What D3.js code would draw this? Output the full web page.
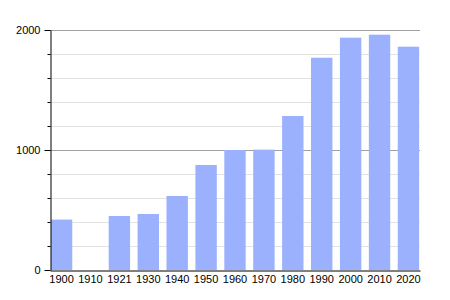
<!DOCTYPE html>
<html>
<head>
<meta charset="utf-8">
<script src="https://cdn.jsdelivr.net/npm/d3@7"></script>
<style>
  body { margin: 0; background: #fff; }
  text { font-family: "Liberation Sans", Arial, sans-serif; font-size: 11px; fill: #000; }
</style>
</head>
<body>
<script>
var years = ['1900', '1910', '1921', '1930', '1940', '1950', '1960', '1970', '1980', '1990', '2000', '2010', '2020'];
var population = [420, 0, 450, 467, 617, 875, 1000, 1003, 1283, 1769, 1936, 1961, 1861];
var majorTicks = [0, 1000, 2000];
var minorTicks = [200, 400, 600, 800, 1200, 1400, 1600, 1800];

var width = 450,
    height = 300,
    margin = { top: 30, right: 30, bottom: 30, left: 50 };

var svg = d3.select('body').append('svg')
    .attr('width', width)
    .attr('height', height);

width = width - margin.left - margin.right;
height = height - margin.top - margin.bottom;

var xScale = d3.scaleBand().domain(years).range([0, width]).paddingInner(0.26).paddingOuter(0.03),
    yScale = d3.scaleLinear().domain([0, 2000]).range([height, 0]);

var g = svg.append('g')
    .attr('transform', 'translate(' + margin.left + ',' + margin.top + ')');

// light grid every 200
g.selectAll('.minor')
  .data(minorTicks)
  .enter().append('line')
  .attr('x1', 0).attr('x2', width)
  .attr('y1', function(d) { return yScale(d) + 0.5; })
  .attr('y2', function(d) { return yScale(d) + 0.5; })
  .attr('stroke', '#e2e2e2');

// darker grid at the thousands
g.selectAll('.major')
  .data(majorTicks.slice(1))
  .enter().append('line')
  .attr('x1', 0).attr('x2', width)
  .attr('y1', function(d) { return yScale(d) + 0.5; })
  .attr('y2', function(d) { return yScale(d) + 0.5; })
  .attr('stroke', '#a0a0a0');

// bars
g.selectAll('.bar')
  .data(years)
  .enter().append('rect')
  .attr('class', 'bar')
  .attr('x', function(d) { return xScale(d); })
  .attr('width', xScale.bandwidth())
  .attr('y', function(d, i) { return yScale(population[i]); })
  .attr('height', function(d, i) { return height - yScale(population[i]); })
  .attr('fill', '#9bb1fd');

// y axis: long ticks at thousands, short ones every 200
g.append('g')
  .attr('transform', 'translate(0.5,0)')
  .call(d3.axisLeft(yScale).tickValues(minorTicks).tickSize(3).tickFormat(''))
  .call(function(a) { a.select('.domain').remove(); });

g.append('g')
  .attr('transform', 'translate(0.5,0)')
  .call(d3.axisLeft(yScale).tickValues(majorTicks).tickFormat(d3.format('d')).tickSize(6).tickSizeOuter(0).tickPadding(4))
  .call(function(a) {
    a.selectAll('text').attr('font-size', null).attr('font-family', null);
  });

// x axis
g.append('g')
  .attr('transform', 'translate(0,' + (height + 0.5) + ')')
  .call(d3.axisBottom(xScale).tickSize(0).tickSizeOuter(0).tickPadding(5))
  .call(function(a) {
    a.selectAll('text').attr('font-size', null).attr('font-family', null);
  });

svg.selectAll('.domain').attr('stroke', '#000');
svg.selectAll('.tick line').attr('stroke', '#000');
</script>
</body>
</html>
